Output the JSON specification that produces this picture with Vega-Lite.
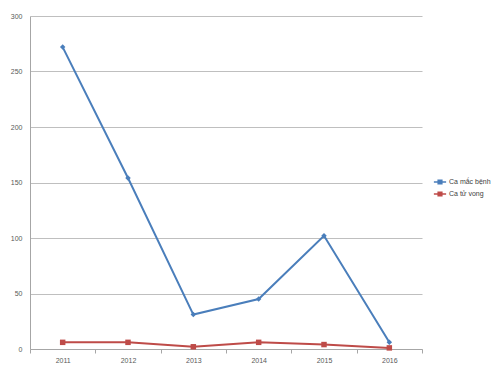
{
  "$schema": "https://vega.github.io/schema/vega-lite/v6.json",
  "width": 392,
  "height": 333,
  "autosize": {"type": "none"},
  "padding": {"left": 30, "top": 16, "right": 78, "bottom": 26},
  "background": "white",
  "config": {
    "view": {"stroke": null},
    "font": "Liberation Sans",
    "axis": {"labelFont": "Liberation Sans", "labelFontSize": 7, "labelColor": "#595959"},
    "legend": {"labelFont": "Liberation Sans", "labelFontSize": 7, "labelColor": "#404040"}
  },
  "data": {
    "values": [
      {"year": "2011", "series": "Ca mắc bệnh", "value": 272},
      {"year": "2012", "series": "Ca mắc bệnh", "value": 154},
      {"year": "2013", "series": "Ca mắc bệnh", "value": 31},
      {"year": "2014", "series": "Ca mắc bệnh", "value": 45},
      {"year": "2015", "series": "Ca mắc bệnh", "value": 102},
      {"year": "2016", "series": "Ca mắc bệnh", "value": 6},
      {"year": "2011", "series": "Ca tử vong", "value": 6},
      {"year": "2012", "series": "Ca tử vong", "value": 6},
      {"year": "2013", "series": "Ca tử vong", "value": 2},
      {"year": "2014", "series": "Ca tử vong", "value": 6},
      {"year": "2015", "series": "Ca tử vong", "value": 4},
      {"year": "2016", "series": "Ca tử vong", "value": 1}
    ]
  },
  "encoding": {
    "x": {
      "field": "year", "type": "ordinal",
      "scale": {"type": "band", "paddingInner": 0, "paddingOuter": 0},
      "axis": {"title": null, "labelAngle": 0, "tickBand": "extent", "tickColor": "#a6a6a6", "tickSize": 4, "domainColor": "#a6a6a6", "grid": false, "labelPadding": 3}
    },
    "y": {
      "field": "value", "type": "quantitative",
      "scale": {"domain": [0, 300], "nice": false},
      "axis": {"title": null, "values": [0, 50, 100, 150, 200, 250, 300], "ticks": false, "domain": true, "domainColor": "#a6a6a6", "gridColor": "#bfbfbf", "labelPadding": 8}
    },
    "color": {
      "field": "series", "type": "nominal",
      "scale": {"domain": ["Ca mắc bệnh", "Ca tử vong"], "range": ["#4a7ebb", "#be4b48"]},
      "legend": {
        "title": null, "orient": "none", "legendX": 403, "legendY": 159,
        "symbolType": "M-1,0H1M-0.3,-0.3H0.3V0.3H-0.3Z",
        "symbolSize": 150, "symbolStrokeWidth": 1.5, "rowPadding": 0, "labelOffset": 2
      }
    }
  },
  "layer": [
    {
      "mark": {"type": "line", "strokeWidth": 2}
    },
    {
      "transform": [{"filter": "datum.series === 'Ca mắc bệnh'"}],
      "mark": {"type": "point", "filled": true, "opacity": 1, "size": 30, "shape": "diamond"}
    },
    {
      "transform": [{"filter": "datum.series === 'Ca tử vong'"}],
      "mark": {"type": "point", "filled": true, "opacity": 1, "size": 30, "shape": "square"}
    }
  ]
}
